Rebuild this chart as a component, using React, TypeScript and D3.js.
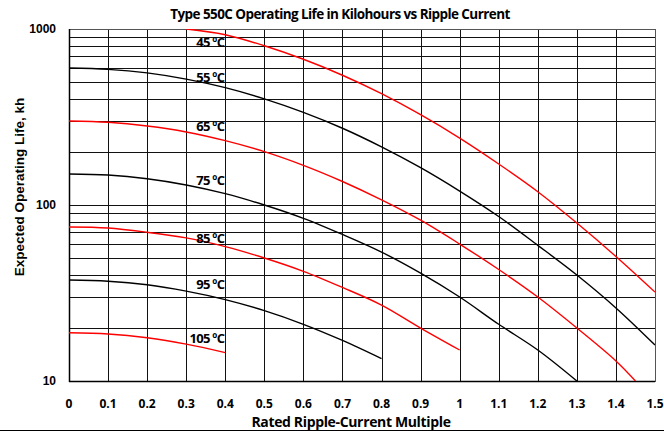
import React from "react";
import * as d3 from "d3";

const W = 664;
const H = 431;
const M = { left: 69, right: 9, top: 29, bottom: 50 };

const title = "Type 550C Operating Life in Kilohours vs Ripple Current";
const xTitle = "Rated Ripple-Current Multiple";
const yTitle = "Expected Operating Life, kh";

const xTicks = [0, 0.1, 0.2, 0.3, 0.4, 0.5, 0.6, 0.7, 0.8, 0.9, 1, 1.1, 1.2, 1.3, 1.4, 1.5];
const yLabelTicks = [10, 100, 1000];
const yGridTicks = [
  10, 20, 30, 40, 50, 60, 70, 80, 90,
  100, 200, 300, 400, 500, 600, 700, 800, 900, 1000,
];

const x45 = [0.3, 0.4, 0.5, 0.6, 0.7, 0.8, 0.9, 1.0, 1.1, 1.2, 1.3, 1.4, 1.5];
const y45 = [1000, 928, 803, 673, 546, 429, 326, 240, 171, 119, 79, 51, 32];

const x55 = [0, 0.1, 0.2, 0.3, 0.4, 0.5, 0.6, 0.7, 0.8, 0.9, 1.0, 1.1, 1.2, 1.3, 1.4, 1.5];
const y55 = [600, 590, 563, 519, 464, 401, 336, 273, 214, 163, 120, 86, 59, 40, 26, 16];

const x65 = [0, 0.1, 0.2, 0.3, 0.4, 0.5, 0.6, 0.7, 0.8, 0.9, 1.0, 1.1, 1.2, 1.3, 1.4, 1.45];
const y65 = [300, 295, 281, 260, 232, 201, 168, 136, 107, 82, 60, 43, 30, 20, 13, 10];

const x75 = [0, 0.1, 0.2, 0.3, 0.4, 0.5, 0.6, 0.7, 0.8, 0.9, 1.0, 1.1, 1.2, 1.3];
const y75 = [150, 148, 141, 130, 116, 100, 84, 68, 54, 41, 30, 21, 15, 10];

const x85 = [0, 0.1, 0.2, 0.3, 0.4, 0.5, 0.6, 0.7, 0.8, 0.9, 1.0];
const y85 = [75, 74, 70, 65, 58, 50, 42, 34, 27, 20, 15];

const x95 = [0, 0.1, 0.2, 0.3, 0.4, 0.5, 0.6, 0.7, 0.8];
const y95 = [37.5, 36.9, 35.2, 32.4, 29, 25.1, 21, 17, 13.4];

const x105 = [0, 0.1, 0.2, 0.3, 0.4];
const y105 = [18.8, 18.5, 17.6, 16.2, 14.5];

const seriesNames = ["45 ºC", "55 ºC", "65 ºC", "75 ºC", "85 ºC", "95 ºC", "105 ºC"];
const seriesX = [x45, x55, x65, x75, x85, x95, x105];
const seriesY = [y45, y55, y65, y75, y85, y95, y105];
const seriesColor = ["#ff0000", "#000000", "#ff0000", "#000000", "#ff0000", "#000000", "#ff0000"];
// label anchor points (x value and y value at label baseline)
const labelX = 0.4;
const labelY = [790, 500, 263, 130, 61, 33.3, 16.4];

export default function App() {
  const x = d3.scaleLinear().domain([0, 1.5]).range([M.left, W - M.right]);
  const y = d3.scaleLog().domain([10, 1000]).range([H - M.bottom, M.top]);
  const line = d3
    .line<[number, number]>()
    .x((d) => x(d[0]))
    .y((d) => y(d[1]))
    .curve(d3.curveCatmullRom.alpha(0.5));

  const x0 = x(0);
  const x1 = x(1.5);
  const yTop = y(1000);
  const yBot = y(10);

  return (
    <svg
      width={W}
      height={H}
      style={{ position: "absolute", left: 0, top: 0, background: "#fff" }}
    >
      <defs>
        <clipPath id="plot">
          <rect x={x0} y={yTop} width={x1 - x0} height={yBot - yTop} />
        </clipPath>
      </defs>
      <rect x={0} y={0} width={W} height={H} fill="#fff" />
      {/* horizontal grid */}
      {yGridTicks.map((t) => (
        <line
          key={"h" + t}
          x1={x0}
          x2={x1}
          y1={Math.round(y(t)) + 0.5}
          y2={Math.round(y(t)) + 0.5}
          stroke="#111"
          strokeWidth={1}
        />
      ))}
      {/* vertical grid */}
      {xTicks.map((t) => (
        <line
          key={"v" + t}
          x1={Math.round(x(t)) + 0.5}
          x2={Math.round(x(t)) + 0.5}
          y1={yTop}
          y2={yBot}
          stroke="#111"
          strokeWidth={1}
        />
      ))}
      <rect
        x={x0 + 0.5}
        y={Math.round(yTop) + 0.5}
        width={x1 - x0}
        height={Math.round(yBot) - Math.round(yTop)}
        fill="none"
        stroke="#555"
        strokeWidth={1}
      />
      <line x1={Math.round(x0) + 0.5} x2={Math.round(x0) + 0.5} y1={yTop} y2={yBot + 1} stroke="#000" strokeWidth={1.5} />
      <line x1={x0} x2={x1} y1={Math.round(yBot) + 0.5} y2={Math.round(yBot) + 0.5} stroke="#000" strokeWidth={1.5} />

      {/* curves */}
      <g clipPath="url(#plot)">
        {seriesX.map((xs, i) => (
          <path
            key={"s" + i}
            d={line(xs.map((v, j) => [v, seriesY[i][j]]) as [number, number][]) || ""}
            fill="none"
            stroke={seriesColor[i]}
            strokeWidth={1.4}
          />
        ))}
      </g>

      {/* curve labels */}
      {seriesNames.map((n, i) => (
        <text
          key={"l" + i}
          x={x(labelX) - 1}
          y={y(labelY[i])}
          textAnchor="end"
          fontFamily="'Open Sans', sans-serif"
          fontWeight="bold"
          fontSize={13}
          letterSpacing={-0.7}
          fill="#000"
        >
          {n}
        </text>
      ))}

      {/* y tick labels */}
      {yLabelTicks.map((t) => (
        <text
          key={"yl" + t}
          x={56}
          y={y(t) + 4}
          textAnchor="end"
          fontFamily="'Liberation Sans', Arial, sans-serif"
          fontWeight="bold"
          fontSize={12}
          fill="#000"
        >
          {t}
        </text>
      ))}
      {/* x tick labels */}
      {xTicks.map((t) => (
        <text
          key={"xl" + t}
          x={x(t)}
          y={408}
          textAnchor="middle"
          fontFamily="'Open Sans', sans-serif"
          fontWeight="bold"
          fontSize={12}
          fill="#000"
        >
          {String(t)}
        </text>
      ))}

      <text
        x={340}
        y={19}
        textAnchor="middle"
        fontFamily="'Open Sans', sans-serif"
        fontWeight="bold"
        fontSize={13.5}
        letterSpacing={-0.58}
        fill="#000"
      >
        {title}
      </text>
      <text
        x={351}
        y={427}
        textAnchor="middle"
        fontFamily="'Open Sans', sans-serif"
        fontWeight="bold"
        fontSize={14}
        letterSpacing={-0.35}
        fill="#000"
      >
        {xTitle}
      </text>
      <text
        transform={`translate(24, 187) rotate(-90)`}
        textAnchor="middle"
        fontFamily="'Liberation Sans', Arial, sans-serif"
        fontWeight="bold"
        fontSize={13.5}
        fill="#000"
      >
        {yTitle}
      </text>
      <line x1={0} x2={W} y1={430.5} y2={430.5} stroke="#000" strokeWidth={1} />
    </svg>
  );
}
